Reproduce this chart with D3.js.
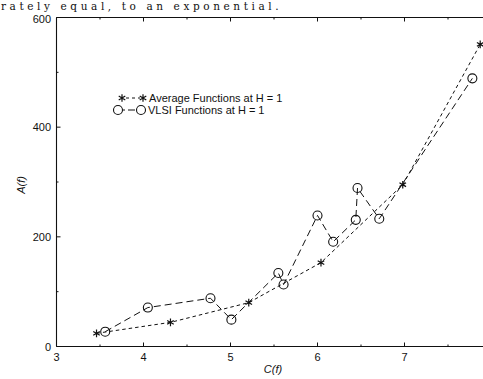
<!DOCTYPE html>
<html>
<head>
<meta charset="utf-8">
<script src="https://cdn.jsdelivr.net/npm/d3@7"></script>
<style>
  body { margin: 0; background: #fff; }
  svg { display: block; }
  text { font-family: "Liberation Sans", Arial, sans-serif; fill: #111; }
</style>
</head>
<body>
<div id="chart"></div>
<script>
const avgC = [3.46, 4.31, 5.21, 6.04, 6.98, 7.87];
const avgA = [24, 44, 80, 153, 295, 551];

const vlsiC = [3.56, 4.05, 4.77, 5.01, 5.55, 5.61, 6.0, 6.18, 6.44, 6.46, 6.71, 7.78];
const vlsiA = [27, 71, 88, 49, 134, 113, 239, 191, 231, 289, 233, 489];

const xTicks = [3, 4, 5, 6, 7];
const xMinor = [3.5, 4.5, 5.5, 6.5, 7.5];
const yTicks = [0, 200, 400, 600];
const yMinor = [100, 300, 500];

const legendLabels = ['Average Functions at H = 1', 'VLSI Functions at H = 1'];
const headerText = 'rately equal, to an exponential.';

const W = 483, H = 379;
const svg = d3.select('#chart').append('svg')
  .attr('width', W).attr('height', H);

const x = d3.scaleLinear().domain([3, 8]).range([56.5, 491.5]);
const y = d3.scaleLinear().domain([0, 600]).range([346.5, 17.5]);

// line of the paper text above the figure
svg.append('text')
  .attr('x', 1).attr('y', 10)
  .style('font-family', '"DejaVu Serif", "Liberation Serif", serif')
  .style('font-size', '10.5px')
  .style('letter-spacing', '3.6px')
  .text(headerText);

// frame
const frame = svg.append('g').attr('stroke', '#111').attr('stroke-width', 1.1).attr('fill', 'none');
frame.append('line').attr('x1', x(3)).attr('x2', W).attr('y1', y(0)).attr('y2', y(0));
frame.append('line').attr('x1', x(3)).attr('x2', W).attr('y1', y(600)).attr('y2', y(600));
frame.append('line').attr('x1', x(3)).attr('x2', x(3)).attr('y1', y(0)).attr('y2', y(600));

// ticks pointing into the box
const tk = svg.append('g').attr('stroke', '#111').attr('stroke-width', 1);
xTicks.concat(xMinor).forEach(v => {
  const len = xTicks.includes(v) ? 4 : 2;
  tk.append('line').attr('x1', x(v)).attr('x2', x(v)).attr('y1', y(0)).attr('y2', y(0) - len);
  tk.append('line').attr('x1', x(v)).attr('x2', x(v)).attr('y1', y(600)).attr('y2', y(600) + len);
});
yTicks.concat(yMinor).forEach(v => {
  const len = yTicks.includes(v) ? 4 : 2;
  tk.append('line').attr('x1', x(3)).attr('x2', x(3) + len).attr('y1', y(v)).attr('y2', y(v));
});

// tick labels
svg.append('g').selectAll('text').data(xTicks).enter().append('text')
  .attr('x', d => x(d)).attr('y', 361)
  .attr('text-anchor', 'middle')
  .style('font-size', '11px')
  .text(d => d);
svg.append('g').selectAll('text').data(yTicks).enter().append('text')
  .attr('x', 51).attr('y', d => y(d) + (d === 600 ? 5 : 4))
  .attr('text-anchor', 'end')
  .style('font-size', '11px')
  .text(d => d);

// axis titles
svg.append('text')
  .attr('transform', 'translate(25,185) rotate(-90)')
  .attr('text-anchor', 'middle')
  .style('font-size', '11px').style('font-style', 'italic')
  .text('A(f)');
svg.append('text')
  .attr('x', 273).attr('y', 373)
  .attr('text-anchor', 'middle')
  .style('font-size', '11px').style('font-style', 'italic')
  .text('C(f)');

const avg = avgC.map((c, i) => [c, avgA[i]]);
const vlsi = vlsiC.map((c, i) => [c, vlsiA[i]]);

const line = d3.line().x(d => x(d[0])).y(d => y(d[1]));

svg.append('path').datum(vlsi)
  .attr('d', line).attr('fill', 'none')
  .attr('stroke', '#111').attr('stroke-width', 1)
  .attr('stroke-dasharray', '7,4');
svg.append('path').datum(avg)
  .attr('d', line).attr('fill', 'none')
  .attr('stroke', '#111').attr('stroke-width', 1)
  .attr('stroke-dasharray', '3.5,3');

const star = d3.symbol().type(d3.symbolAsterisk).size(40);
function drawStar(g, px, py) {
  g.append('path').attr('d', star()).attr('transform', `translate(${px},${py})`)
    .attr('fill', 'none').attr('stroke', '#111').attr('stroke-width', 1.2);
}
function drawCircle(g, px, py) {
  g.append('circle').attr('cx', px).attr('cy', py).attr('r', 4.5)
    .attr('fill', 'none').attr('stroke', '#111').attr('stroke-width', 1.1);
}

const marks = svg.append('g');
vlsi.forEach(d => drawCircle(marks, x(d[0]), y(d[1])));
avg.forEach(d => drawStar(marks, x(d[0]), y(d[1])));

// legend
const lg = svg.append('g');
const rows = [98, 110];
lg.append('line').attr('x1', 126).attr('x2', 140).attr('y1', rows[0]).attr('y2', rows[0])
  .attr('stroke', '#111').attr('stroke-dasharray', '3,3');
drawStar(lg, 122, rows[0]);
drawStar(lg, 143, rows[0]);
lg.append('line').attr('x1', 123).attr('x2', 137).attr('y1', rows[1]).attr('y2', rows[1])
  .attr('stroke', '#111').attr('stroke-dasharray', '2,3,7,3');
drawCircle(lg, 118, rows[1]);
drawCircle(lg, 141, rows[1]);
lg.selectAll('text').data(legendLabels).enter().append('text')
  .attr('x', (d, i) => i === 0 ? 149 : 148)
  .attr('y', (d, i) => rows[i] + 4)
  .style('font-size', '11px')
  .text(d => d);
</script>
</body>
</html>
